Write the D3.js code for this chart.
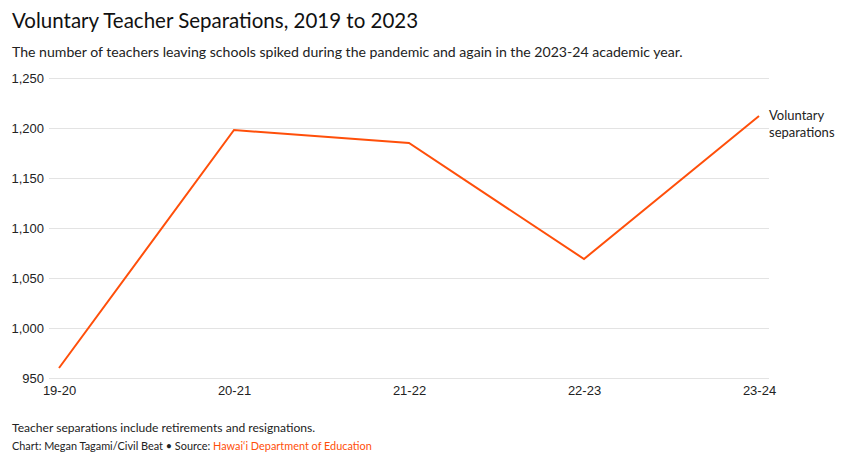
<!DOCTYPE html>
<meta charset="UTF-8">
<head>
    <title>Voluntary Teacher Separations</title>
</head>
<style>
    body {
        margin: 0;
        background: #fff;
        font-family: Lato, "Open Sans", sans-serif;
    }

    .grid line {
        stroke: #e3e3e3;
        stroke-width: 1;
    }

    .tick text {
        fill: #222;
        font-size: 13px;
    }
</style>
<body>
    <div id="chart"></div>
    <script src="https://d3js.org/d3.v7.min.js"></script>
    <script>
        // data
        var years = ["19-20", "20-21", "21-22", "22-23", "23-24"];
        var separations = [960, 1198, 1185, 1069, 1212];
        var yTicks = [950, 1000, 1050, 1100, 1150, 1200, 1250];

        var w = 844;
        var h = 465;
        var orange = "#ff4f0a";

        var svg = d3.select("#chart")
            .append("svg")
            .attr("width", w)
            .attr("height", h);

        // title block
        svg.append("text")
            .attr("x", 12)
            .attr("y", 28)
            .attr("font-size", "20.5px")
            .attr("fill", "#111")
            .text("Voluntary Teacher Separations, 2019 to 2023");
        svg.append("text")
            .attr("x", 12)
            .attr("y", 57)
            .attr("font-size", "14.1px")
            .attr("fill", "#222")
            .text("The number of teachers leaving schools spiked during the pandemic and again in the 2023-24 academic year.");

        var x = d3.scalePoint()
            .domain(years)
            .range([59, 759]);
        var y = d3.scaleLinear()
            .domain([950, 1250])
            .range([378, 78]);

        // horizontal grid + y labels
        var grid = svg.append("g").attr("class", "grid");
        grid.selectAll("line")
            .data(yTicks)
            .enter()
            .append("line")
            .attr("x1", 49)
            .attr("x2", 769)
            .attr("y1", d => y(d) + 0.5)
            .attr("y2", d => y(d) + 0.5);

        var yAxis = svg.append("g")
            .attr("transform", "translate(44,0)")
            .call(d3.axisLeft(y).tickValues(yTicks).tickSize(0).tickPadding(0).tickFormat(d3.format(",")));
        yAxis.select(".domain").remove();
        yAxis.selectAll("text").attr("dy", "0.35em");

        var xAxis = svg.append("g")
            .attr("transform", "translate(0,386)")
            .call(d3.axisBottom(x).tickSize(0).tickPadding(0));
        xAxis.select(".domain").remove();
        xAxis.selectAll("text").attr("dy", "0.71em");

        // line
        var line = d3.line()
            .x((d, i) => x(years[i]))
            .y(d => y(d));
        svg.append("path")
            .datum(separations)
            .attr("d", line)
            .attr("fill", "none")
            .attr("stroke", orange)
            .attr("stroke-width", 2)
            .attr("stroke-linejoin", "miter");

        // series label
        var lbl = svg.append("text")
            .attr("x", 769)
            .attr("y", y(separations[separations.length - 1]) + 4)
            .attr("font-size", "13px")
            .attr("fill", "#222");
        lbl.append("tspan").attr("x", 769).text("Voluntary");
        lbl.append("tspan").attr("x", 769).attr("dy", "1.3em").text("separations");

        // footer
        svg.append("text")
            .attr("x", 12)
            .attr("y", 432)
            .attr("font-size", "12.1px")
            .attr("fill", "#222")
            .text("Teacher separations include retirements and resignations.");
        var src = svg.append("text")
            .attr("x", 12)
            .attr("y", 450)
            .attr("font-size", "10.9px")
            .attr("fill", "#222");
        src.append("tspan").text("Chart: Megan Tagami/Civil Beat • Source: ");
        src.append("tspan").attr("fill", orange).text("Hawai‘i Department of Education");
    </script>
</body>
